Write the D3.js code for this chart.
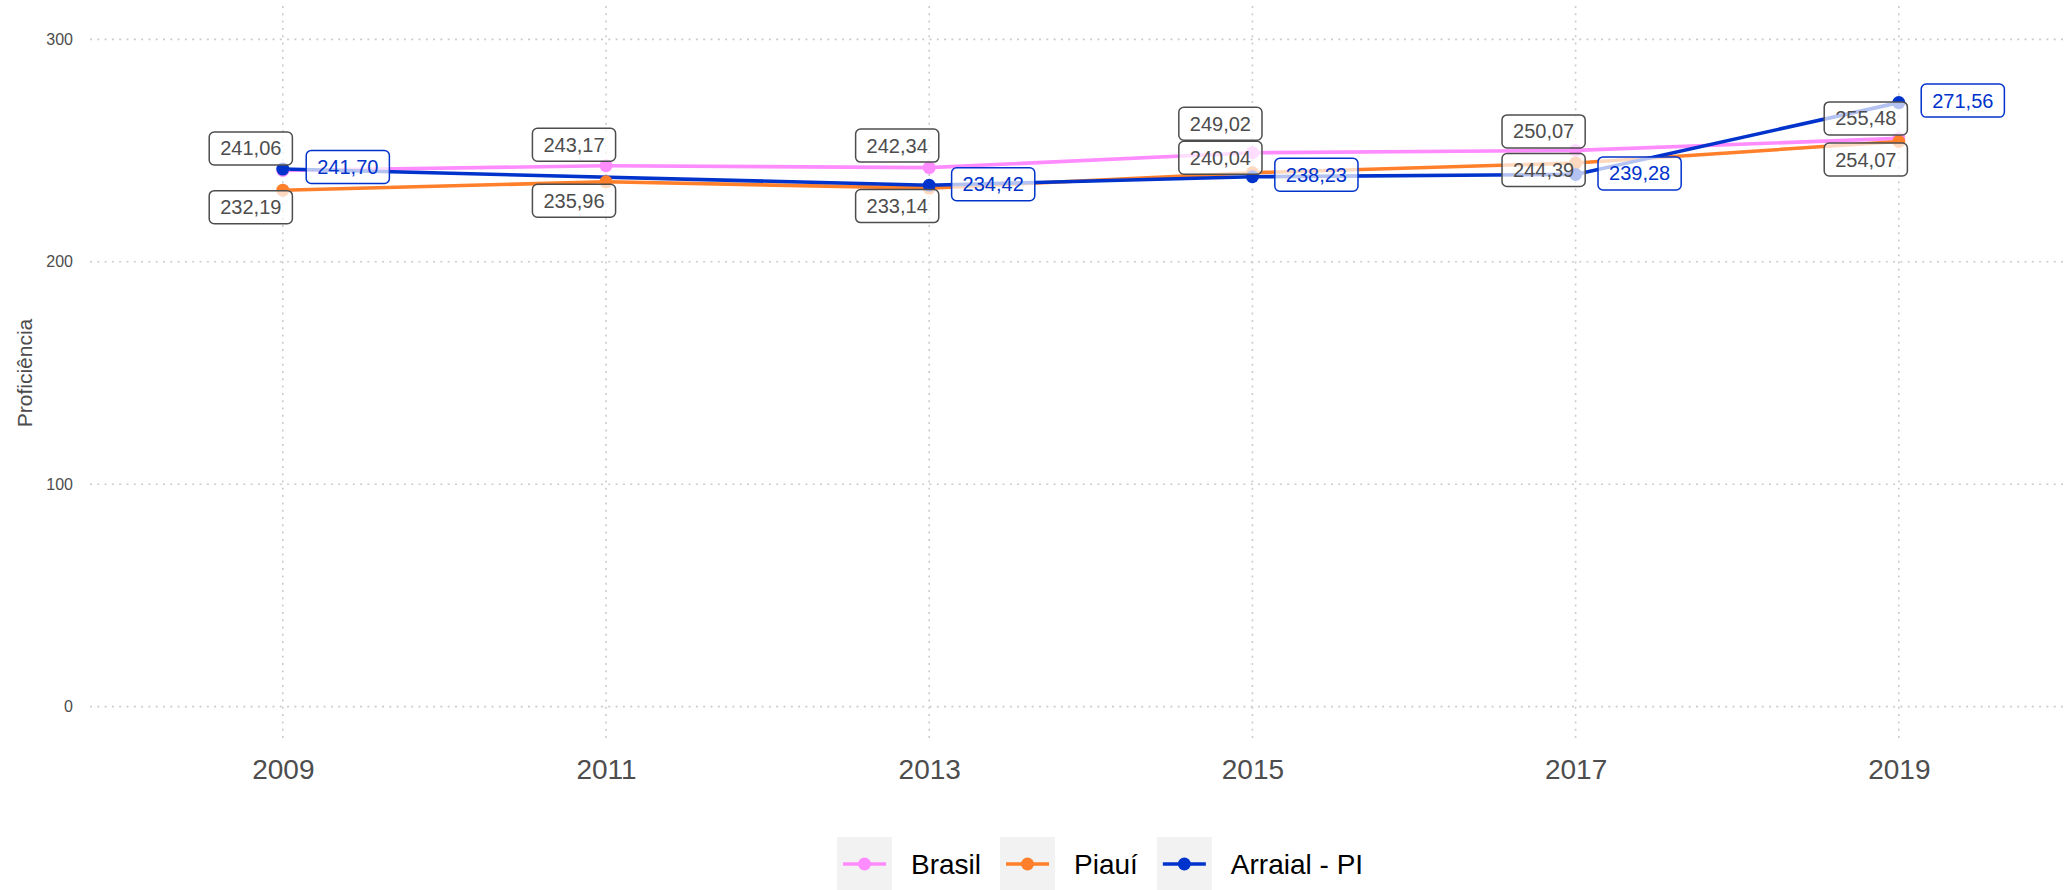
<!DOCTYPE html>
<html>
<head>
<meta charset="utf-8">
<script src="https://d3js.org/d3.v7.min.js"></script>
<style>
  body { margin: 0; background: #fff; }
  text { font-family: "Liberation Sans", Arial, Helvetica, sans-serif; }
</style>
</head>
<body>
<div id="graph"></div>
<script>
// data
var years = [2009, 2011, 2013, 2015, 2017, 2019];
var brasil = [241.06, 243.17, 242.34, 249.02, 250.07, 255.48];
var piaui = [232.19, 235.96, 233.14, 240.04, 244.39, 254.07];
var arraial = [241.70, null, 234.42, 238.23, 239.28, 271.56];
var seriesNames = ["Brasil", "Piauí", "Arraial - PI"];
var yTicks = [0, 100, 200, 300];

var colors = ["#ff8cff", "#ff7f2a", "#0033cc"];

// label nudges (px, box centre relative to point)
var nudges = [
  [[-32, -22], [-32, -21], [-32, -22], [-32, -29], [-32, -19], [-33, -20]],
  [[-32, 17], [-32, 19], [-32, 18], [-32, -15], [-32, 7], [-33, 18]],
  [[65, -2], null, [64, -1], [64, -2], [64, -1], [64, -2]]
];

var width = 2072, height = 890;
var panel = {left: 90, right: 2066, top: 6, bottom: 740};

var svg = d3.select("#graph").append("svg")
    .attr("width", width)
    .attr("height", height);

var xScale = d3.scaleLinear()
    .domain([2009, 2019])
    .range([282.8, 1898.8]);

var yScale = d3.scaleLinear()
    .domain([-15, 315])
    .range([panel.bottom, panel.top]);

var fmt = function(v) { return d3.format(".2f")(v).replace(".", ","); };

var series = [brasil, piaui, arraial].map(function(vals, s) {
  return years.map(function(y, i) {
    return {year: y, value: vals[i], s: s, i: i};
  }).filter(function(d) { return d.value != null; });
});

// grid
svg.append("g").selectAll("line")
  .data(yTicks).enter().append("line")
  .attr("x1", panel.left).attr("x2", panel.right)
  .attr("y1", function(d) { return yScale(d); })
  .attr("y2", function(d) { return yScale(d); })
  .style("stroke", "#cbcbcb").style("stroke-width", 1.6)
  .style("stroke-dasharray", "2,5.3");

svg.append("g").selectAll("line")
  .data(years).enter().append("line")
  .attr("x1", function(d) { return xScale(d); })
  .attr("x2", function(d) { return xScale(d); })
  .attr("y1", panel.top).attr("y2", panel.bottom)
  .style("stroke", "#cbcbcb").style("stroke-width", 1.6)
  .style("stroke-dasharray", "2,5.3");

// axes (text only)
var yAxis = svg.append("g")
  .attr("transform", "translate(" + (panel.left - 17) + ",0)")
  .call(d3.axisLeft(yScale).tickValues(yTicks).tickSize(0).tickPadding(0));
yAxis.select(".domain").remove();
yAxis.selectAll("text")
  .style("font-size", "16px").style("fill", "#4d4d4d")
  .style("font-family", "'Liberation Sans', Arial, sans-serif");

var xAxis = svg.append("g")
  .attr("transform", "translate(0," + panel.bottom + ")")
  .call(d3.axisBottom(xScale).tickValues(years).tickFormat(d3.format("d")).tickSize(0).tickPadding(19));
xAxis.select(".domain").remove();
xAxis.selectAll("text")
  .style("font-size", "28px").style("fill", "#4d4d4d")
  .style("font-family", "'Liberation Sans', Arial, sans-serif");

svg.append("text")
  .attr("transform", "translate(32," + ((panel.top + panel.bottom) / 2) + ") rotate(-90)")
  .attr("text-anchor", "middle")
  .style("font-size", "21px").style("fill", "#4d4d4d")
  .text("Proficiência");

// lines
var line = d3.line()
  .x(function(d) { return xScale(d.year); })
  .y(function(d) { return yScale(d.value); });

svg.append("g").selectAll("path")
  .data(series).enter().append("path")
  .attr("d", line)
  .style("fill", "none")
  .style("stroke", function(d, i) { return colors[i]; })
  .style("stroke-width", 3.6);

// points
svg.append("g").selectAll("g")
  .data(series).enter().append("g")
  .selectAll("circle")
  .data(function(d) { return d; }).enter().append("circle")
  .attr("cx", function(d) { return xScale(d.year); })
  .attr("cy", function(d) { return yScale(d.value); })
  .attr("r", 6.5)
  .style("fill", function(d) { return colors[d.s]; });

// labels
var all = series[0].concat(series[1]).concat(series[2]);
var labels = svg.append("g").selectAll("g")
  .data(all).enter().append("g")
  .attr("transform", function(d) {
    var n = nudges[d.s][d.i];
    return "translate(" + (xScale(d.year) + n[0]) + "," + (yScale(d.value) + n[1]) + ")";
  });

labels.append("rect")
  .attr("class", "box");

labels.append("text")
  .attr("text-anchor", "middle")
  .attr("y", 7)
  .style("font-size", "20px")
  .style("fill", function(d) { return d.s == 2 ? "#0033cc" : "#4d4d4d"; })
  .text(function(d) { return fmt(d.value); });

labels.each(function(d) {
  var g = d3.select(this);
  var w = g.select("text").node().getComputedTextLength() + 22;
  g.select("rect")
    .attr("x", -w / 2).attr("y", -16.5)
    .attr("width", w).attr("height", 33)
    .attr("rx", 5).attr("ry", 5)
    .style("fill", "#fff").style("fill-opacity", 0.7)
    .style("stroke", d.s == 2 ? "#0033cc" : "#4d4d4d")
    .style("stroke-width", 1.5);
});

// legend
var legend = svg.append("g").attr("transform", "translate(837,837)");
var lx = 0;
seriesNames.forEach(function(name, i) {
  var item = legend.append("g").attr("transform", "translate(" + lx + ",0)");
  item.append("rect")
    .attr("width", 55).attr("height", 54)
    .style("fill", "#f2f2f2");
  item.append("line")
    .attr("x1", 6).attr("x2", 49).attr("y1", 27).attr("y2", 27)
    .style("stroke", colors[i]).style("stroke-width", 3.4);
  item.append("circle")
    .attr("cx", 27.5).attr("cy", 27).attr("r", 6.5)
    .style("fill", colors[i]);
  var t = item.append("text")
    .attr("x", 74).attr("y", 37)
    .style("font-size", "28px").style("fill", "#000")
    .text(name);
  lx += 74 + t.node().getComputedTextLength() + 19;
});
</script>
</body>
</html>
